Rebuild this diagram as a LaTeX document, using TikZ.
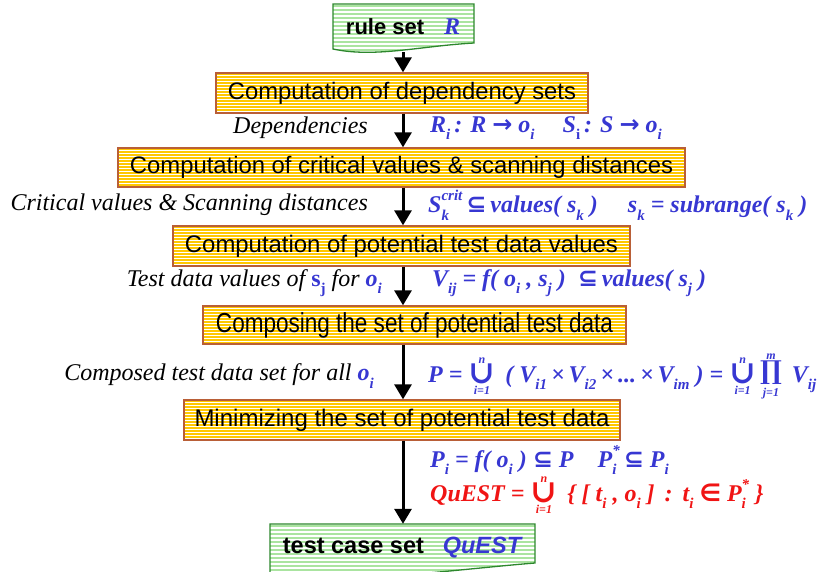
\documentclass[tikz,border=0pt]{standalone}
\usepackage{fontspec}
\setmainfont{Liberation Serif}
\setsansfont{Liberation Sans}
\newfontfamily\symf{DejaVu Sans}
\newfontfamily\symserif{DejaVu Serif}
\usetikzlibrary{arrows.meta}
\definecolor{qblue}{RGB}{55,55,210}
\definecolor{qred}{RGB}{240,20,20}
\definecolor{stripY}{RGB}{255,200,0}
\definecolor{boxborder}{RGB}{185,95,55}
\definecolor{stripG}{RGB}{170,228,160}
\definecolor{docborder}{RGB}{45,135,45}
\newcommand\ssz{\fontsize{15}{15}\selectfont}
\newcommand\sbx[1]{\raisebox{-0.32em}{\ssz #1}}
\newcommand\spsb[2]{\rlap{\raisebox{-0.32em}{\ssz #2}}\raisebox{0.5em}{\ssz #1}}
\newcommand\arr{{\symf\bfseries →}}
\newcommand\sseq{{\symf\bfseries ⊆}}
\newcommand\inn{{\symf\bfseries ∈}}
\newcommand\bcup[2]{$\vcenter{\offinterlineskip\halign{\hfil##\hfil\cr{\fontsize{12}{12}\selectfont #1}\cr\noalign{\kern1pt}{\symserif\bfseries\fontsize{32}{32}\selectfont ∪}\cr\noalign{\kern2pt}{\fontsize{12}{12}\selectfont #2}\cr}}$}
\newcommand\bprod[2]{$\vcenter{\offinterlineskip\halign{\hfil##\hfil\cr{\fontsize{12}{12}\selectfont #1}\cr\noalign{\kern2pt}{\symserif\bfseries\fontsize{26}{26}\selectfont ∏}\cr\noalign{\kern3pt}{\fontsize{12}{12}\selectfont #2}\cr}}$}
\begin{document}
\begin{tikzpicture}[x=1pt,y=-1pt,
  stripesY/.style={path picture={\foreach \k in {0,...,15}
      \draw[stripY,line width=1.5pt] ([yshift={-1.2pt-\k*3pt}]path picture bounding box.north west) -- ([yshift={-1.2pt-\k*3pt}]path picture bounding box.north east);}},
  stripesG/.style={path picture={\foreach \k in {0,...,14}
      \draw[stripG,line width=1.2pt] ([yshift={-2pt-\k*4pt}]path picture bounding box.north west) -- ([yshift={-2pt-\k*4pt}]path picture bounding box.north east);}},
  proc/.style={draw=boxborder, line width=1.3pt, fill=white, inner sep=0pt, font=\sffamily\fontsize{22}{24}\selectfont, stripesY},
  doc/.style={draw=docborder, line width=1.3pt, fill=white, stripesG},
  doctext/.style={inner sep=0pt, font=\sffamily\bfseries\fontsize{22}{24}\selectfont},
  flow/.style={line width=3pt, -{Triangle[width=17pt,length=15pt]}},
  lbl/.style={anchor=east, inner sep=0pt, font=\fontsize{24}{27}\selectfont\itshape},
  mth/.style={anchor=west, inner sep=0pt, font=\fontsize{24}{27}\selectfont\bfseries\itshape, text=qblue}]
\useasboundingbox (0,0) rectangle (824,571);
\clip (0,0) rectangle (824,571);
\coordinate (spine) at (403,0);

% rule set document
\path[doc] (333,4) -- (474,4) -- (474,43) .. controls (420,46) and (375,58) .. (333,49) -- cycle;
\node[doctext] (rule) at (403,27) {rule set\hspace{0.9em}{\rmfamily\itshape\fontsize{24}{26}\selectfont\color{qblue}R}};
\coordinate (ruleb) at (403,52);

% process boxes
\node[proc, minimum width=372pt, minimum height=40pt] (b1) at (402,93) {\resizebox{348pt}{!}{Computation of dependency sets}};
\node[proc, minimum width=567pt, minimum height=39pt] (b2) at (401.5,167.5) {\resizebox{543pt}{!}{Computation of critical values \& scanning distances}};
\node[proc, minimum width=457pt, minimum height=40pt] (b3) at (401.5,246) {\resizebox{433pt}{!}{Computation of potential test data values}};
\node[proc, minimum width=423pt, minimum height=38pt] (b4) at (414.5,325) {\resizebox{397pt}{!}{\scalebox{0.82}[1]{Composing the set of potential test data}}};
\node[proc, minimum width=436pt, minimum height=40pt] (b5) at (402,420) {\resizebox{415pt}{!}{Minimizing the set of potential test data}};

% test case set document
\path[doc] (270,524) -- (535,524) -- (535,563) .. controls (470,568) and (330,586) .. (270,578) -- cycle;
\node[doctext, font=\sffamily\bfseries\fontsize{23.5}{25}\selectfont, minimum height=48pt] (test) at (402,548) {test case set\hspace{0.8em}{\itshape\color{qblue}QuEST}};

% connectors
\draw[flow] (ruleb) -- (b1.north -| spine);
\draw[flow] (b1.south -| spine) -- (b2.north -| spine);
\draw[flow] (b2.south -| spine) -- (b3.north -| spine);
\draw[flow] (b3.south -| spine) -- (b4.north -| spine);
\draw[flow] (b4.south -| spine) -- (b5.north -| spine);
\draw[flow] (b5.south -| spine) -- (test.north -| spine);

% left labels
\node[lbl] (l1) at (368,128) {Dependencies};
\node[lbl] (l2) at (368,205) {Critical values \& Scanning distances};
\node[lbl] (l3) at (382,283) {Test data values of {\color{qblue}\bfseries\upshape s\sbx{j}} for {\color{qblue}\bfseries o\sbx{i}}};
\node[lbl] (l4) at (374,376) {Composed test data set for all {\color{qblue}\bfseries o\sbx{i}}};

% formulas
\node[mth] (m1) at (430,128) {R\sbx{i}\,: R \arr\ o\sbx{i}\hspace{28pt}S\sbx{\upshape i}\,: S \arr\ o\sbx{i}};
\node[mth] (m2) at (428,205) {S\spsb{crit}{k}\,\sseq\,values( s\sbx{k} )\hspace{30pt}s\sbx{k} = subrange( s\sbx{k} )};
\node[mth] (m3) at (432,283) {V\sbx{ij} = f( o\sbx{i} , s\sbx{j} )\ \ \sseq\,values( s\sbx{j} )};
\node[mth] (m4) at (428,376) {P = \bcup{n}{i=1}\, ( V\sbx{i1}\,×\,V\sbx{i2}\,×\,...\,×\,V\sbx{im} ) = \bcup{n}{i=1}\,\bprod{m}{j=1}\, V\sbx{ij}};
\node[mth] (m5) at (430,460) {P\sbx{i} = f( o\sbx{i} ) \sseq\ P\hspace{24pt}P\spsb{*}{i}\,\sseq\ P\sbx{i}};
\node[mth, text=qred] (m6) at (430,495) {QuEST = \bcup{n}{i=1}\, \{ [ t\sbx{i} , o\sbx{i} ] \,:\ \,t\sbx{i} \inn\ P\spsb{*}{i} \}};
\end{tikzpicture}
\end{document}
